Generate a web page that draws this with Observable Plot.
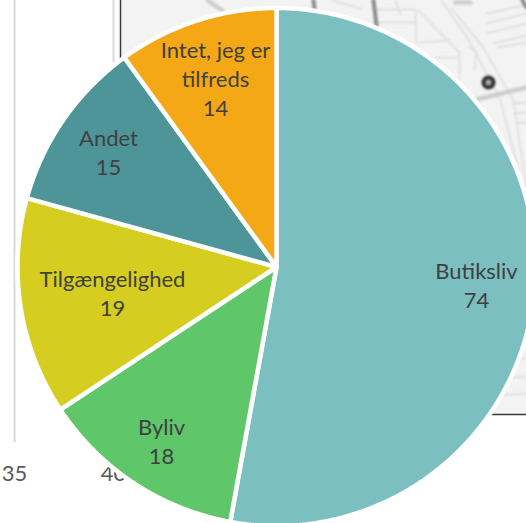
<!DOCTYPE html>
<html>
<head>
<meta charset="utf-8">
<script src="https://cdn.jsdelivr.net/npm/d3@7"></script>
<script src="https://cdn.jsdelivr.net/npm/@observablehq/plot@0.6"></script>
<style>
html,body{margin:0;padding:0;background:#fff}
svg{display:block}
</style>
</head>
<body>
<div id="chart"></div>
<script>
// Chart values (clockwise from 12 o'clock)
const categories = ["Butiksliv", "Byliv", "Tilgængelighed", "Andet", "Intet, jeg er\ntilfreds"];
const values = [74, 18, 19, 15, 14];
const colors = ["#7bbfc0", "#5fc66a", "#d5cd1f", "#4d9599", "#f4a815"];

// Axis of the chart hidden behind the pie
const axisTicks = [35, 40];

// Layout, in pixels of the picture
const W = 526, H = 523, cx = 276, cy = 266.5, R = 259;
const tickPos = t => 14 + (t - 35) * 19.8;
const labelX = [476, 161, 112, 108, 215];
const labelY = [284, 440, 291.5, 151, 77];

// Wedges derived from the values
const total = d3.sum(values);
let acc = 0;
const wedges = [];
categories.forEach((name, i) => {
  const a0 = acc / total * 2 * Math.PI;
  acc += values[i];
  const a1 = acc / total * 2 * Math.PI;
  const n = Math.ceil((a1 - a0) / 0.01);
  wedges.push({name, x: cx, y: cy});
  for (let k = 0; k <= n; k++) {
    const a = a0 + (a1 - a0) * k / n;
    wedges.push({name, x: cx + R * Math.sin(a), y: cy - R * Math.cos(a)});
  }
  wedges.push({name, x: cx, y: cy});
});
const labels = categories.map((name, i) => ({text: name + "\n" + values[i], x: labelX[i], y: labelY[i]}));

// Backdrop map sketch
const grayRoads = [
  [[374,9],[414,9]], [[376,22],[416,22]], [[415,10],[416,43]], [[418,10],[459,52]],
  [[419,42],[449,40]], [[436,57],[459,57]], [[459,52],[459,80]], [[451,8],[483,47],[513,100],[526,186]],
  [[441,0],[470,42],[500,100],[518,170]], [[486,13],[523,5]], [[486,23],[526,13]], [[486,33],[526,23]],
  [[493,43],[526,35]], [[511,103],[526,102]], [[513,113],[526,112]], [[516,123],[526,122]],
  [[468,46],[476,51]], [[476,52],[474,70]], [[332,0],[360,8]], [[395,0],[400,14]], [[497,47],[526,42]],
  [[503,360],[526,358]], [[497,378],[526,376]], [[493,395],[526,393]]
];
const darkRoads = [[[313,0],[314,8]], [[373,0],[376,25]], [[522,0],[526,7]]];
const wideRoads = [[[476,99],[526,87]], [[207,0],[222,10]], [[455,2],[470,2]]];
const toRows = (lines) => lines.flatMap((l, z) => l.map(([x, y]) => ({x, y, z})));
const blurred = (index, scales, values, dims, context, next) => {
  const g = next(index, scales, values, dims, context);
  g.style.filter = "blur(.8px)";
  return g;
};

const chart = Plot.plot({
  width: W, height: H,
  margin: 0,
  x: {domain: [0, W], range: [0, W], axis: null},
  y: {domain: [0, H], range: [0, H], axis: null},
  color: {domain: categories, range: colors},
  style: {background: "#fff", overflow: "hidden"},
  marks: [
    // map panel
    Plot.rect([{}], {x1: 121, x2: W, y1: 0, y2: 414, fill: "#f3f3f3"}),
    Plot.line(toRows(grayRoads), {x: "x", y: "y", z: "z", stroke: "#dadada", strokeWidth: 1.4, render: blurred}),
    Plot.line(toRows(wideRoads), {x: "x", y: "y", z: "z", stroke: "#cdcdcd", strokeWidth: 4.5, render: blurred}),
    Plot.line(toRows(darkRoads), {x: "x", y: "y", z: "z", stroke: "#8c8c8c", strokeWidth: 4, render: blurred}),
    Plot.dot([{x: 488, y: 82}], {x: "x", y: "y", r: 7, fill: "#333", render: blurred}),
    Plot.dot([{x: 488, y: 82}], {x: "x", y: "y", r: 3, fill: "#a8a8a8", render: blurred}),
    // frame of the map and gridlines of the hidden chart
    Plot.ruleX([120], {x: d => d, y1: 0, y2: 60, stroke: "#3a3a3a", strokeWidth: 1.5}),
    Plot.ruleY([414], {y: d => d, x1: 491, x2: W, stroke: "#3a3a3a", strokeWidth: 1.5}),
    Plot.ruleX(axisTicks, {x: tickPos, y1: 0, y2: d => d === 35 ? 442 : 62, stroke: "#d9d9d9", strokeWidth: 2}),
    Plot.text(axisTicks, {x: tickPos, y: 473, text: d => String(d), fill: "#595959", fontSize: 22, fontFamily: "Lato"}),
    // pie
    Plot.line(wedges, {x: "x", y: "y", z: "name", fill: "name", stroke: "#fff", strokeWidth: 4.5, strokeLinejoin: "miter", curve: "linear"}),
    Plot.text(labels, {x: "x", y: "y", text: "text", fill: "#404040", fontSize: 22, fontFamily: "Lato", lineHeight: 1.33})
  ]
});
document.getElementById("chart").append(chart);
</script>
</body>
</html>
